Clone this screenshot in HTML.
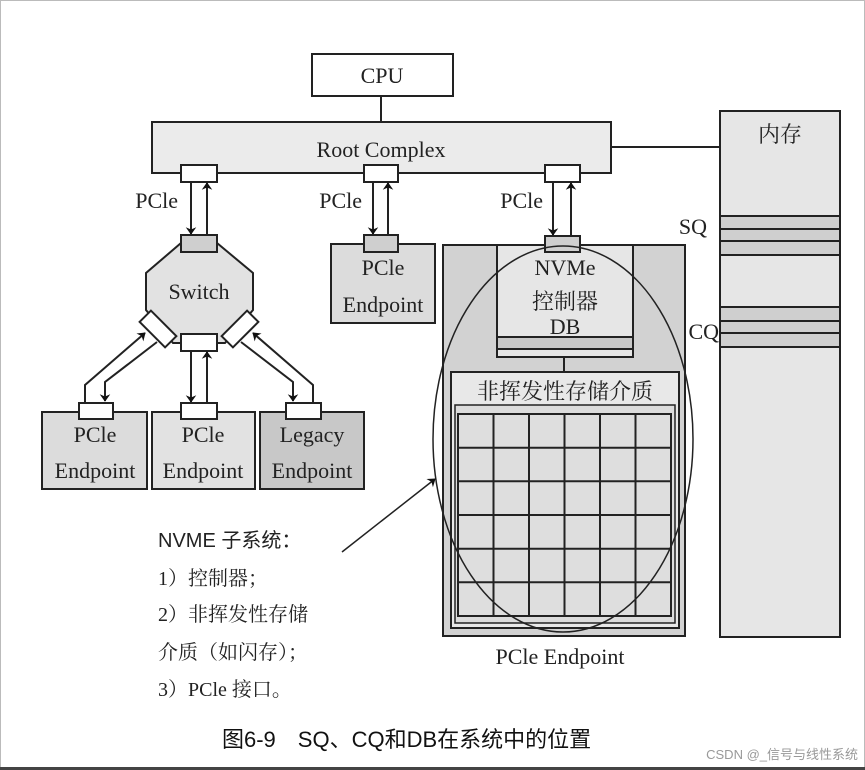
<!DOCTYPE html>
<html><head><meta charset="utf-8"><style>
body{margin:0;background:#fff;}
svg{display:block}
.s{font-family:"Liberation Serif","Noto Serif CJK SC",serif;fill:#222}
</style></head><body>
<svg width="865" height="770" viewBox="0 0 865 770" xmlns="http://www.w3.org/2000/svg">
<defs><marker id="a" viewBox="0 0 10 16" refX="9" refY="8" markerWidth="12" markerHeight="12" orient="auto" markerUnits="userSpaceOnUse"><path d="M0,1 L10,8 L0,15 L3,8z" fill="#111"/></marker></defs>
<rect x="0.5" y="0.5" width="864" height="767" fill="#fff" stroke="#bbb"/>
<rect x="0" y="767" width="865" height="3" fill="#444"/>
<g stroke="#222" stroke-width="2" fill="none">
<rect x="312" y="54" width="141" height="42" fill="#fff"/>
<line x1="381" y1="96" x2="381" y2="122"/>
<rect x="152" y="122" width="459" height="51" fill="#ebebeb"/>
<line x1="611" y1="147" x2="720" y2="147"/>
<rect x="720" y="111" width="120" height="526" fill="#e6e6e6"/>
<rect x="720" y="216" width="120" height="13" fill="#cfcfcf"/>
<rect x="720" y="229" width="120" height="12" fill="#cfcfcf"/>
<rect x="720" y="241" width="120" height="14" fill="#cfcfcf"/>
<rect x="720" y="307" width="120" height="14" fill="#cfcfcf"/>
<rect x="720" y="321" width="120" height="12" fill="#cfcfcf"/>
<rect x="720" y="333" width="120" height="14" fill="#cfcfcf"/>
<rect x="181" y="165" width="36" height="17" fill="#fff"/>
<rect x="364" y="165" width="34" height="17" fill="#fff"/>
<rect x="545" y="165" width="35" height="17" fill="#fff"/>
<line x1="191" y1="182" x2="191" y2="234" marker-end="url(#a)"/>
<line x1="207" y1="235" x2="207" y2="183" marker-end="url(#a)"/>
<line x1="373" y1="182" x2="373" y2="234" marker-end="url(#a)"/>
<line x1="388" y1="235" x2="388" y2="183" marker-end="url(#a)"/>
<line x1="553" y1="182" x2="553" y2="235" marker-end="url(#a)"/>
<line x1="571" y1="236" x2="571" y2="183" marker-end="url(#a)"/>
<polygon points="181,243 217,243 253,273 253,310 225,343 173,343 146,310 146,273" fill="#e2e2e2"/>
<rect x="181" y="235" width="36" height="17" fill="#cfcfcf"/>
<rect x="181" y="334" width="36" height="17" fill="#fff"/>
<rect x="140" y="321" width="36" height="16" fill="#fff" transform="rotate(45 158 329)"/>
<rect x="222" y="321" width="36" height="16" fill="#fff" transform="rotate(-45 240 329)"/>
<line x1="191" y1="351" x2="191" y2="402" marker-end="url(#a)"/>
<line x1="207" y1="403" x2="207" y2="352" marker-end="url(#a)"/>
<polyline points="241,342 293,382 293,401" marker-end="url(#a)"/>
<polyline points="313,403 313,385 253,333" marker-end="url(#a)"/>
<polyline points="157,342 105,382 105,401" marker-end="url(#a)"/>
<polyline points="85,403 85,385 145,333" marker-end="url(#a)"/>
<rect x="331" y="244" width="104" height="79" fill="#dcdcdc"/>
<rect x="364" y="235" width="34" height="17" fill="#cfcfcf"/>
<rect x="42" y="412" width="105" height="77" fill="#dcdcdc"/>
<rect x="152" y="412" width="103" height="77" fill="#e2e2e2"/>
<rect x="260" y="412" width="104" height="77" fill="#c8c8c8"/>
<rect x="79" y="403" width="34" height="16" fill="#fff"/>
<rect x="181" y="403" width="36" height="16" fill="#fff"/>
<rect x="286" y="403" width="35" height="16" fill="#fff"/>
<rect x="443" y="245" width="242" height="391" fill="#d2d2d2"/>
<rect x="497" y="245" width="136" height="112" fill="#e6e6e6"/>
<rect x="497" y="337" width="136" height="12" fill="#c8c8c8"/>
<line x1="564" y1="357" x2="564" y2="372"/>
<rect x="451" y="372" width="228" height="256" fill="#e8e8e8"/>
<rect x="455" y="405" width="220" height="218" fill="#dcdcdc" stroke-width="1.5"/>
<rect x="458" y="414" width="213" height="202" fill="#dedede"/>
<path d="M493.5,414V616M529,414V616M564.5,414V616M600,414V616M635.5,414V616M458,447.7H671M458,481.3H671M458,515H671M458,548.7H671M458,582.3H671"/>
<rect x="545" y="236" width="35" height="16" fill="#cfcfcf"/>
<ellipse cx="563" cy="439" rx="130" ry="193" stroke-width="1.5"/>
<line x1="342" y1="552" x2="435" y2="479" stroke-width="1.5" marker-end="url(#a)"/>
</g>
<g class="s" font-size="22" text-anchor="middle">
<text x="382" y="83">CPU</text>
<text x="381" y="157">Root Complex</text>
<text x="199" y="299">Switch</text>
<text x="383" y="275">PCle</text><text x="383" y="312">Endpoint</text>
<text x="95" y="442">PCle</text><text x="95" y="478">Endpoint</text>
<text x="203" y="442">PCle</text><text x="203" y="478">Endpoint</text>
<text x="312" y="442">Legacy</text><text x="312" y="478">Endpoint</text>
<text x="565" y="275">NVMe</text>
<text x="565" y="309">控制器</text>
<text x="565" y="334">DB</text>
<text x="565" y="399">非挥发性存储介质</text>
<text x="560" y="664">PCle Endpoint</text>
<text x="780" y="142">内存</text>
</g>
<g class="s" font-size="22" text-anchor="end">
<text x="178" y="208">PCle</text>
<text x="362" y="208">PCle</text>
<text x="543" y="208">PCle</text>
<text x="707" y="234">SQ</text>
<text x="719" y="339">CQ</text>
</g>
<g font-size="20" fill="#222">
<text x="158" y="547" font-family="Liberation Sans,Noto Sans CJK SC,sans-serif">NVME 子系统：</text>
<text class="s" x="158" y="585">1）控制器；</text>
<text class="s" x="158" y="621">2）非挥发性存储</text>
<text class="s" x="158" y="659">介质（如闪存）；</text>
<text class="s" x="158" y="696">3）PCle 接口。</text>
</g>
<text x="222" y="747" font-size="22" font-family="Liberation Sans,Noto Sans CJK SC,sans-serif" fill="#111">图6-9　SQ、CQ和DB在系统中的位置</text>
<text x="858" y="759" font-size="13" text-anchor="end" font-family="Liberation Sans,Noto Sans CJK SC,sans-serif" fill="#999">CSDN @_信号与线性系统</text>
</svg>
</body></html>
